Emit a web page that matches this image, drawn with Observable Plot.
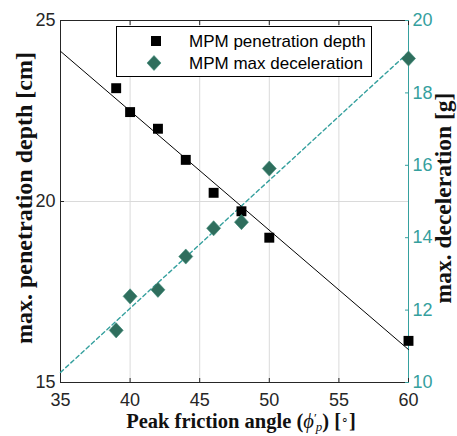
<!DOCTYPE html>
<html><head><meta charset="utf-8">
<script src="https://cdn.jsdelivr.net/npm/d3@7"></script>
<script src="https://cdn.jsdelivr.net/npm/@observablehq/plot@0.6"></script>
<style>body{margin:0;background:#fff} svg{display:block}</style>
</head><body><div id="chart"></div>
<script>
// ---- data ----
const frictionAngle    = [39, 40, 42, 44, 46, 48, 50, 60];
const penetrationDepth = [23.13, 22.47, 22.01, 21.15, 20.24, 19.73, 19.0, 16.15];
const maxDeceleration  = [11.44, 12.38, 12.56, 13.48, 14.26, 14.43, 15.91, 18.95];
const fitX        = [35, 60];
const depthFitY   = [24.15, 15.91];
const decelFitY   = [10.28, 19.12];
const xTicks      = [35, 40, 45, 50, 55, 60];
const depthTicks  = [15, 20, 25];
const decelTicks  = [10, 12, 14, 16, 18, 20];
const legendLabels = ["MPM penetration depth", "MPM max deceleration"];

const xDomain = [35, 60], depthDomain = [15, 25], decelDomain = [10, 20];
const toLeft = g => depthDomain[0] + (g - decelDomain[0]) * (depthDomain[1] - depthDomain[0]) / (decelDomain[1] - decelDomain[0]);

const rows = frictionAngle.map((x, i) => ({x, depth: penetrationDepth[i], decel: maxDeceleration[i]}));
const depthFit = fitX.map((x, i) => ({x, y: depthFitY[i]}));
const decelFit = fitX.map((x, i) => ({x, y: decelFitY[i]}));

const TEAL = "#35a09e", DIAMOND = "#2f6e5d", AX = "#262626", GRID = "#dadada";
const diamond = {draw(ctx, size) {
  const r = Math.sqrt(size / Math.PI), w = r, h = r * 1.08;
  ctx.moveTo(0, -h); ctx.lineTo(w, 0); ctx.lineTo(0, h); ctx.lineTo(-w, 0); ctx.closePath();
}};

const sans = "'Liberation Sans', Arial, sans-serif";
const chart = Plot.plot({
  width: 457, height: 436,
  marginLeft: 60, marginRight: 49, marginTop: 20, marginBottom: 54,
  style: {fontFamily: sans, fontSize: "18px", color: AX, background: "#fff"},
  x: {domain: xDomain},
  y: {domain: depthDomain},
  marks: [
    Plot.ruleX(xTicks.slice(1, -1), {stroke: GRID, strokeWidth: 1}),
    Plot.ruleY(depthTicks.slice(1, -1), {stroke: GRID, strokeWidth: 1}),
    Plot.ruleY([depthDomain[1]], {stroke: AX}),
    Plot.ruleY([depthDomain[0]], {stroke: AX}),
    Plot.ruleX([xDomain[0]], {stroke: AX}),
    Plot.ruleX([xDomain[1]], {stroke: TEAL}),
    // inward ticks
    Plot.axisX({anchor: "top", ticks: xTicks, tickSize: -4, tickFormat: () => "", label: null, stroke: AX}),
    Plot.axisX({anchor: "bottom", ticks: xTicks, tickSize: -4, tickFormat: () => "", label: null, stroke: AX}),
    Plot.axisY({anchor: "left", ticks: depthTicks, tickSize: -4, tickFormat: () => "", label: null, stroke: AX}),
    Plot.axisY({anchor: "right", ticks: decelTicks.map(toLeft), tickSize: -4, tickFormat: () => "", label: null, stroke: TEAL}),
    // tick labels
    Plot.axisX({anchor: "bottom", ticks: xTicks, tickSize: 0, tickPadding: 11, label: null, fill: AX}),
    Plot.axisY({anchor: "left", ticks: depthTicks, tickSize: 0, tickPadding: 5, label: null, fill: AX}),
    Plot.axisY({anchor: "right", ticks: decelTicks.map(toLeft), tickFormat: d => Math.round(d - toLeft(0)), tickSize: 0, tickPadding: 4, label: null, fill: TEAL}),
    // fits
    Plot.line(depthFit, {x: "x", y: "y", stroke: "#000", strokeWidth: 1}),
    Plot.line(decelFit, {x: "x", y: d => toLeft(d.y), stroke: TEAL, strokeWidth: 1.4, strokeDasharray: "4,3"}),
    // points
    Plot.dot(rows, {x: "x", y: "depth", symbol: "square", r: 5.6, fill: "#000"}),
    Plot.dot(rows, {x: "x", y: d => toLeft(d.decel), symbol: diamond, r: 7, fill: DIAMOND, stroke: "#3b8a77", strokeWidth: 0.6})
  ]
});
document.getElementById("chart").append(chart);

// ---- titles and legend ----
const svg = d3.select(chart);
const serif = "'Liberation Serif', 'Times New Roman', serif";
svg.append("text").attr("transform", "translate(24,198) rotate(-90)")
  .attr("text-anchor", "middle").attr("dominant-baseline", "central")
  .style("font", `bold 24px ${serif}`).attr("fill", "#111").text("max. penetration depth [cm]");
svg.append("text").attr("transform", "translate(443,198) rotate(-90)")
  .attr("text-anchor", "middle").attr("dominant-baseline", "central")
  .style("font", `bold 23.5px ${serif}`).attr("fill", "#111").text("max. deceleration [g]");
const xl = svg.append("text").attr("x", 241).attr("y", 428).attr("text-anchor", "middle")
  .style("font", `bold 20.5px ${serif}`).attr("fill", "#111");
xl.append("tspan").text("Peak friction angle (");
xl.append("tspan").style("font-style", "italic").style("font-weight", "normal").text("ϕ");
xl.append("tspan").style("font-weight", "normal").attr("dy", -6).style("font-size", "13px").text("′");
xl.append("tspan").style("font-style", "italic").style("font-weight", "normal").style("font-size", "13px").attr("dx", -1).attr("dy", 9).text("p");
xl.append("tspan").attr("dy", -3).text(") [");
xl.append("tspan").style("font-weight", "normal").style("font-size", "12px").attr("dy", -4).text("∘");
xl.append("tspan").attr("dy", 4).text("]");

const lg = svg.append("g");
lg.append("rect").attr("x", 116.5).attr("y", 26.5).attr("width", 255).attr("height", 50)
  .attr("fill", "#fff").attr("stroke", "#000").attr("stroke-width", 1);
const sq = 10;
lg.append("rect").attr("x", 156 - sq / 2).attr("y", 41 - sq / 2).attr("width", sq).attr("height", sq).attr("fill", "#000");
lg.append("path").attr("d", "M154,55.5L161,63L154,70.5L147,63Z").attr("fill", DIAMOND).attr("stroke", "#3b8a77").attr("stroke-width", 0.6);
legendLabels.forEach((t, i) => {
  lg.append("text").attr("x", 189).attr("y", 41 + i * 22).attr("dominant-baseline", "central")
    .attr("text-anchor", "start")
    .style("font", `17px ${sans}`).attr("fill", "#000").text(t);
});
</script>
</body></html>
